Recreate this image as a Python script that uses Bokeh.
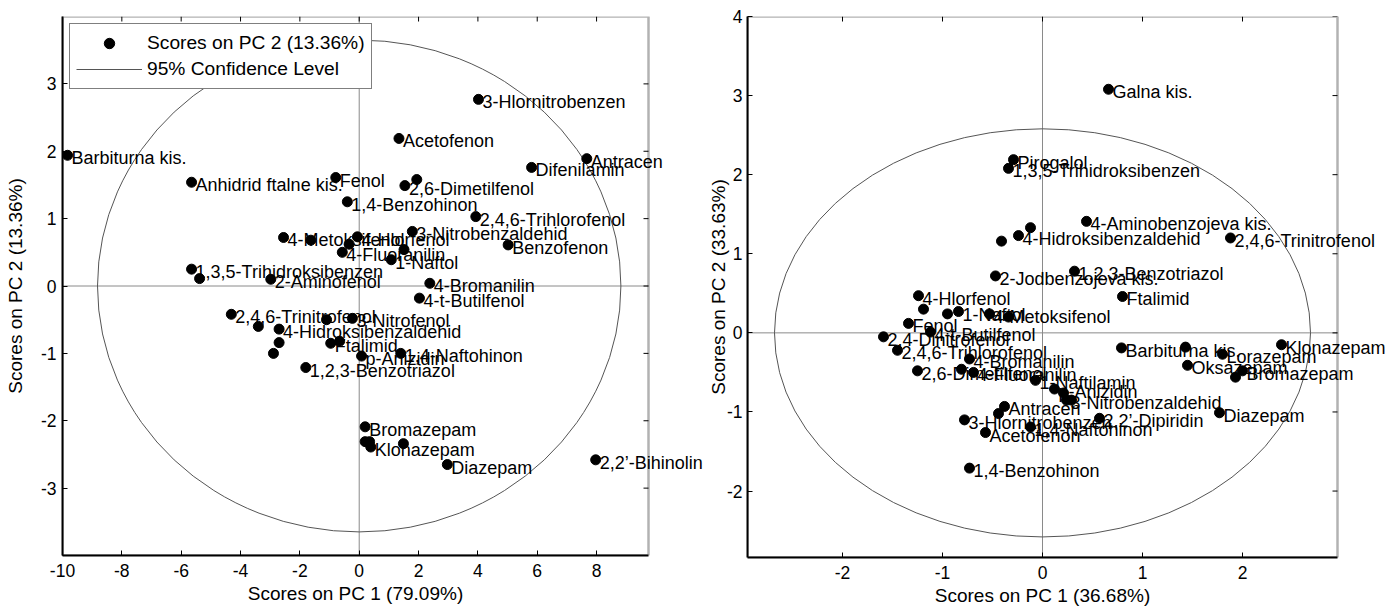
import math
from bokeh.plotting import figure
from bokeh.models import (Range1d, FixedTicker, Span, Label, BoxAnnotation, Title,
                          ColumnDataSource, Legend, LegendItem)
from bokeh.layouts import row
from bokeh.embed import file_html
from bokeh.resources import INLINE

FONT = "Liberation Sans"

# ---------------- data: left panel (PCA scores, PC1 79.09% / PC2 13.36%) ----------------
left_names = ["Barbiturna kis.", "Anhidrid ftalne kis.", "Fenol", "1,4-Benzohinon", "Acetofenon",
              "3-Hlornitrobenzen", "Difenilamin", "Antracen", "2,6-Dimetilfenol", "",
              "2,4,6-Trihlorofenol", "3-Nitrobenzaldehid", "Benzofenon", "4-Metoksifenol", "",
              "4-Hlorfenol", "", "4-Fluoranilin", "", "1-Naftol",
              "1,3,5-Trihidroksibenzen", "", "2-Aminofenol", "4-Bromanilin", "4-t-Butilfenol",
              "2,4,6-Trinitrofenol", "", "4-Hidroksibenzaldehid", "", "",
              "", "3-Nitrofenol", "Ftalimid", "", "p-Anizidin",
              "1,4-Naftohinon", "1,2,3-Benzotriazol", "Bromazepam", "", "",
              "Klonazepam", "", "Diazepam", "2,2\u2019-Bihinolin"]
left_x = [-9.83, -5.65, -0.79, -0.40, 1.34,
          4.02, 5.81, 7.67, 1.54, 1.94,
          3.93, 1.79, 5.02, -2.55, -1.63,
          -0.06, -0.34, -0.57, 1.51, 1.08,
          -5.65, -5.38, -2.98, 2.38, 2.03,
          -4.31, -3.40, -2.70, -2.70, -2.89,
          -1.10, -0.23, -0.96, -0.66, 0.08,
          1.40, -1.80, 0.20, 0.20, 0.35,
          0.39, 1.49, 2.97, 7.97]
left_y = [1.94, 1.54, 1.61, 1.25, 2.19,
          2.77, 1.76, 1.89, 1.49, 1.58,
          1.03, 0.81, 0.61, 0.72, 0.68,
          0.73, 0.62, 0.50, 0.54, 0.39,
          0.25, 0.11, 0.10, 0.04, -0.18,
          -0.42, -0.60, -0.64, -0.84, -1.00,
          -0.50, -0.48, -0.85, -0.82, -1.04,
          -1.00, -1.21, -2.09, -2.31, -2.31,
          -2.39, -2.34, -2.65, -2.58]
left_ellipse = [8.82, 3.65]          # semi-axes of the 95% confidence ellipse
left_xlim = [-10.0, 9.75]
left_ylim = [-4.0, 4.0]
left_xticks = [-10, -8, -6, -4, -2, 0, 2, 4, 6, 8]
left_yticks = [-3, -2, -1, 0, 1, 2, 3]
left_xlabel = "Scores on PC 1 (79.09%)"
left_ylabel = "Scores on PC 2 (13.36%)"
legend_labels = ["Scores on PC 2 (13.36%)", "95% Confidence Level"]

# ---------------- data: right panel (PC1 36.68% / PC2 33.63%) ----------------
right_names = ["Galna kis.", "Pirogalol", "1,3,5-Trihidroksibenzen", "4-Aminobenzojeva kis.", "",
               "4-Hidroksibenzaldehid", "", "2,4,6-Trinitrofenol", "1,2,3-Benzotriazol", "2-Jodbenzojeva kis.",
               "Ftalimid", "4-Hlorfenol", "", "", "1-Naftol",
               "4-Metoksifenol", "", "Fenol", "4-t-Butilfenol", "2,4-Dinitrofenol",
               "2,4,6-Trihlorofenol", "4-Bromanilin", "2,6-Dimetilfenol", "", "4-Fluoranilin",
               "1-Naftilamin", "p-Anizidin", "", "3-Nitrobenzaldehid", "",
               "Antracen", "", "3-Hlornitrobenzen", "1,4-Naftohinon", "Acetofenon",
               "2,2\u2019-Dipiridin", "1,4-Benzohinon", "Barbiturna kis.", "", "Lorazepam",
               "Oksazepam", "Bromazepam", "", "Klonazepam", "Diazepam"]
right_x = [0.66, -0.29, -0.34, 0.44, -0.12,
           -0.24, -0.41, 1.88, 0.32, -0.47,
           0.80, -1.24, -1.19, -0.95, -0.84,
           -0.53, -0.34, -1.34, -1.12, -1.59,
           -1.45, -0.73, -1.25, -0.81, -0.69,
           -0.07, 0.12, 0.21, 0.24, 0.29,
           -0.38, -0.44, -0.78, -0.12, -0.57,
           0.57, -0.73, 0.79, 1.43, 1.80,
           1.45, 2.00, 1.93, 2.39, 1.77]
right_y = [3.08, 2.19, 2.08, 1.41, 1.33,
           1.23, 1.16, 1.20, 0.78, 0.72,
           0.46, 0.47, 0.30, 0.24, 0.27,
           0.24, 0.20, 0.12, 0.01, -0.05,
           -0.22, -0.33, -0.48, -0.46, -0.50,
           -0.60, -0.71, -0.76, -0.85, -0.85,
           -0.93, -1.02, -1.10, -1.19, -1.26,
           -1.08, -1.71, -0.19, -0.18, -0.27,
           -0.41, -0.48, -0.56, -0.15, -1.01]
right_ellipse = [2.68, 2.58]
right_xlim = [-2.95, 2.95]
right_ylim = [-2.84, 4.0]
right_xticks = [-2, -1, 0, 1, 2]
right_yticks = [-2, -1, 0, 1, 2, 3, 4]
right_xlabel = "Scores on PC 1 (36.68%)"
right_ylabel = "Scores on PC 2 (33.63%)"

AXIS_LABEL_PX = 19
XLABEL_EM = 11.34   # advance width of "Scores on PC 1 (xx.xx%)" in em (Arial/Liberation metrics)


def make_panel(names, xs, ys, ell, xlim, ylim, xticks, yticks, xlabel, ylabel,
               box_w, extra_w, fh, mbl, mbt, mbb, ylab_standoff, ytick_standoff):
    # the plotting frame extends 'extra_w' px to the right of the axes box so that
    # point labels may run past the box edge, as in the original figure
    x_end = xlim[0] + (xlim[1] - xlim[0]) * (box_w + extra_w) / box_w
    p = figure(x_range=Range1d(xlim[0], x_end), y_range=Range1d(*ylim),
               frame_width=box_w + extra_w, frame_height=fh,
               min_border_left=mbl, min_border_right=0,
               min_border_top=mbt, min_border_bottom=mbb,
               output_backend="svg", toolbar_location=None,
               y_axis_label=ylabel)
    p.xgrid.visible = False
    p.ygrid.visible = False
    p.outline_line_color = None
    p.border_fill_alpha = 0.0

    for ax, ticks in ((p.xaxis[0], xticks), (p.yaxis[0], yticks)):
        ax.ticker = FixedTicker(ticks=ticks)
        ax.major_label_overrides = {t: str(t) for t in ticks}
        ax.major_tick_in = 5
        ax.major_tick_out = 0
        ax.minor_tick_line_color = None
        ax.axis_line_width = 2
        ax.axis_line_color = "black"
        ax.major_tick_line_color = "black"
        ax.major_label_text_font = FONT
        ax.major_label_text_font_size = "17.5px"
        ax.major_label_text_color = "black"
        ax.axis_label_text_font = FONT
        ax.axis_label_text_font_size = f"{AXIS_LABEL_PX}px"
        ax.axis_label_text_font_style = "normal"
        ax.axis_label_text_color = "black"
    p.xaxis.bounds = (xlim[0], xlim[1])
    p.xaxis.major_label_standoff = 8
    p.yaxis.major_label_standoff = ytick_standoff
    p.yaxis.axis_label_standoff = ylab_standoff

    # x-axis title, centred under the axes box (not under the widened frame)
    p.add_layout(Title(text=xlabel, align="left",
                       offset=box_w / 2 - XLABEL_EM * AXIS_LABEL_PX / 2,
                       text_font=FONT, text_font_size=f"{AXIS_LABEL_PX}px",
                       text_font_style="normal", text_color="black",
                       standoff=2, vertical_align="bottom"), "below")

    # axes box
    p.add_layout(BoxAnnotation(left=xlim[0], right=xlim[1], bottom=ylim[0], top=ylim[1],
                               fill_alpha=0, line_color="black", line_width=2.5))
    # inward tick marks on the top and right edges of the box
    p.ray(x=xticks, y=[ylim[1]] * len(xticks), length=5, length_units="screen",
          angle=-math.pi / 2, line_color="black", line_width=1)
    p.ray(x=[xlim[1]] * len(yticks), y=yticks, length=5, length_units="screen",
          angle=math.pi, line_color="black", line_width=1)

    # zero reference lines
    p.add_layout(Span(location=0, dimension="height", line_color="#8a8a8a", line_width=1, level="underlay"))
    p.segment(x0=[xlim[0]], x1=[xlim[1]], y0=[0], y1=[0], line_color="#8a8a8a", line_width=1, level="underlay")

    p.ellipse(x=[0], y=[0], width=[2 * ell[0]], height=[2 * ell[1]],
              fill_color=None, line_color="#555555", line_width=1)

    src = ColumnDataSource(dict(x=xs, y=ys))
    pts = p.scatter("x", "y", source=src, size=10, marker="circle",
                    fill_color="black", line_color="black")
    for name, x, y in zip(names, xs, ys):
        if name:
            p.add_layout(Label(x=x, y=y, text=name, x_offset=4, y_offset=-3,
                               text_baseline="middle", text_align="left",
                               text_font=FONT, text_font_size="18px", text_color="black"))
    return p, pts


p1, pts1 = make_panel(left_names, left_x, left_y, left_ellipse, left_xlim, left_ylim,
                      left_xticks, left_yticks, left_xlabel, left_ylabel,
                      586, 55, 539, 62, 16, 51, 12, 6)
line_proxy = p1.line(x=[float("nan")], y=[float("nan")], line_color="#555555", line_width=1)
legend = Legend(items=[LegendItem(label=legend_labels[0], renderers=[pts1]),
                       LegendItem(label=legend_labels[1], renderers=[line_proxy])],
                location="top_left", margin=7, padding=6, spacing=0,
                glyph_width=66, glyph_height=26, label_height=26, label_standoff=5,
                label_text_font=FONT, label_text_font_size="19.2px", label_text_color="black",
                border_line_color="black", border_line_width=1,
                background_fill_color="white", background_fill_alpha=1.0)
p1.add_layout(legend)

p2, pts2 = make_panel(right_names, right_x, right_y, right_ellipse, right_xlim, right_ylim,
                      right_xticks, right_yticks, right_xlabel, right_ylabel,
                      590, 54, 541, 44, 16, 49, -5, 5)

layout = row(p1, p2)
open("out.html", "w").write(file_html(layout, INLINE))
